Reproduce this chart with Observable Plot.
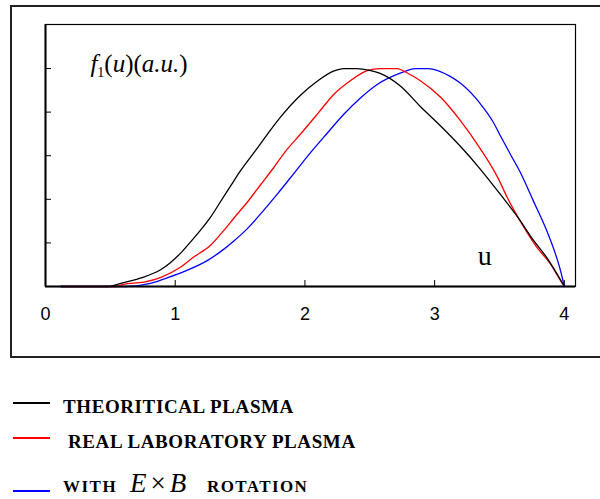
<!DOCTYPE html>
<html>
<head>
<meta charset="utf-8">
<script src="https://cdn.jsdelivr.net/npm/d3@7"></script>
<script src="https://cdn.jsdelivr.net/npm/@observablehq/plot@0.6"></script>
<style>
  html, body { margin: 0; padding: 0; background: #fff; }
  #wrap { position: relative; width: 600px; height: 499px; overflow: hidden; }
  #box { position: absolute; left: 10px; top: 5px; width: 600px; height: 349px; border: 2px solid #222; box-sizing: content-box; }
  #chart { position: absolute; left: 0; top: 0; }
  #legend { position: absolute; left: 0; top: 360px; }
</style>
</head>
<body>
<div id="wrap">
  <div id="box"></div>
  <div id="chart"></div>
  <div id="legend"></div>
</div>
<script>
// ---- data ----
const xTicks = [0, 1, 2, 3, 4];
const yTicks = [0, 1, 2, 3, 4, 5];

const uTheo = [0.12, 0.48, 0.58, 0.73, 0.89, 0.96, 1.04, 1.12, 1.20, 1.27, 1.35, 1.43, 1.50, 1.62, 1.71, 1.81, 1.97, 2.10, 2.22, 2.30, 2.40, 2.50, 2.58, 2.74, 2.89, 3.05, 3.20, 3.35, 3.51, 3.66, 3.74, 3.87, 4.00];
const fTheo = [0, 0, 0.07, 0.19, 0.39, 0.54, 0.76, 1.03, 1.31, 1.58, 1.95, 2.32, 2.64, 3.12, 3.49, 3.88, 4.40, 4.72, 4.94, 5.00, 5.00, 4.96, 4.89, 4.59, 4.13, 3.67, 3.21, 2.70, 2.10, 1.51, 1.15, 0.64, 0];

const uReal = [0.12, 0.54, 0.60, 0.76, 0.89, 1.04, 1.14, 1.27, 1.37, 1.45, 1.56, 1.66, 1.76, 1.85, 1.97, 2.10, 2.22, 2.35, 2.48, 2.58, 2.71, 2.80, 2.89, 3.05, 3.20, 3.35, 3.49, 3.56, 3.69, 3.79, 3.89, 3.97, 4.00];
const fReal = [0, 0, 0.05, 0.10, 0.21, 0.44, 0.67, 0.94, 1.27, 1.56, 1.95, 2.34, 2.73, 3.10, 3.51, 3.97, 4.40, 4.72, 4.95, 5.00, 5.00, 4.88, 4.72, 4.33, 3.80, 3.17, 2.48, 2.04, 1.35, 0.89, 0.53, 0.14, 0];

const uExB = [0.12, 0.62, 0.81, 0.94, 1.09, 1.25, 1.35, 1.45, 1.56, 1.68, 1.79, 1.89, 2.04, 2.17, 2.30, 2.43, 2.56, 2.74, 2.85, 2.95, 3.12, 3.20, 3.35, 3.45, 3.51, 3.59, 3.66, 3.76, 3.87, 3.93, 3.97, 4.00];
const fExB = [0, 0, 0.07, 0.20, 0.37, 0.60, 0.80, 1.04, 1.34, 1.74, 2.13, 2.50, 3.06, 3.51, 3.95, 4.33, 4.64, 4.90, 5.00, 5.00, 4.82, 4.66, 4.20, 3.78, 3.44, 3.00, 2.62, 1.97, 1.24, 0.76, 0.37, 0];

const seriesNames = ["THEORITICAL PLASMA", "REAL LABORATORY PLASMA", "WITH E×B ROTATION"];
const seriesColors = ["#000000", "#ff0000", "#0000ff"];

// ---- build tables ----
const toRows = (us, fs) => us.map((u, i) => ({u, f: fs[i]}));
const theo = toRows(uTheo, fTheo);
const real = toRows(uReal, fReal);
const exb = toRows(uExB, fExB);

const W = 600, H = 360;
const mL = 45, mR = 25, mT = 24, mB = 74;
const innerW = W - mL - mR, innerH = H - mT - mB;

const plot = Plot.plot({
  width: W, height: H,
  marginLeft: mL, marginRight: mR, marginTop: mT, marginBottom: mB,
  x: {domain: [0, 4.086]},
  y: {domain: [0, 6.01], axis: null},
  style: {background: "transparent", fontFamily: "'Liberation Sans', Arial, sans-serif", color: "#000"},
  marks: [
    Plot.frame({stroke: "#000", strokeWidth: 1.2}),
    Plot.tickX(xTicks, {x: d => d, insetTop: innerH - 6, stroke: "#000", strokeWidth: 1}),
    Plot.tickY(yTicks, {y: d => d, insetRight: innerW - 6, stroke: "#000", strokeWidth: 1}),
    Plot.axisX(xTicks, {tickSize: 0, tickPadding: 21, fontSize: 18, tickFormat: d => String(d), label: null}),
    Plot.line(exb, {x: "u", y: "f", stroke: seriesColors[2], strokeWidth: 1.3, curve: "monotone-x"}),
    Plot.line(real, {x: "u", y: "f", stroke: seriesColors[1], strokeWidth: 1.3, curve: "monotone-x"}),
    Plot.line(theo, {x: "u", y: "f", stroke: seriesColors[0], strokeWidth: 1.3, curve: "monotone-x"}),
    Plot.ruleX([0], {stroke: "#000", strokeWidth: 2}),
    Plot.ruleY([0], {stroke: "#000", strokeWidth: 2})
  ]
});
document.getElementById("chart").appendChild(plot);

// annotations inside the plot, positioned through the plot's scales
const sx = plot.scale("x"), sy = plot.scale("y");
const svg = d3.select(plot);
const serif = "'Liberation Serif', 'Times New Roman', serif";
const lab = svg.append("text")
  .attr("x", sx.apply(0.35)).attr("y", sy.apply(4.9))
  .attr("text-anchor", "start")
  .attr("font-family", serif)
  .attr("font-size", 25).attr("fill", "#000");
lab.append("tspan").attr("font-style", "italic").text("f");
lab.append("tspan").attr("font-size", 14).attr("dy", 5).text("1");
lab.append("tspan").attr("dy", -5).text("(");
lab.append("tspan").attr("font-style", "italic").text("u");
lab.append("tspan").text(")(");
lab.append("tspan").attr("font-style", "italic").text("a.u.");
lab.append("tspan").text(")");

svg.append("text")
  .attr("x", sx.apply(3.39)).attr("y", sy.apply(0.48))
  .attr("text-anchor", "middle")
  .attr("font-family", serif)
  .attr("font-size", 28).attr("fill", "#000")
  .text("u");

// ---- legend below the chart ----
const leg = d3.select("#legend").append("svg").attr("width", 600).attr("height", 139)
  .attr("text-anchor", "start");
const rows = [
  {lineY: 43, textY: 53, textX: 63},
  {lineY: 78, textY: 88, textX: 68},
  {lineY: 131, textY: 132, textX: 63}
];
seriesNames.forEach((name, i) => {
  const r = rows[i];
  leg.append("line").attr("x1", 13).attr("x2", 50).attr("y1", r.lineY).attr("y2", r.lineY)
    .attr("stroke", seriesColors[i]).attr("stroke-width", 2);
  if (i < 2) {
    leg.append("text").attr("x", r.textX).attr("y", r.textY)
      .attr("font-family", serif).attr("font-weight", "bold").attr("font-size", 19)
      .attr("letter-spacing", 0.6).attr("fill", "#000").text(name);
  } else {
    const [w, eb, rot] = ["WITH", "E×B", "ROTATION"];
    leg.append("text").attr("x", 63).attr("y", r.textY)
      .attr("font-family", serif).attr("font-weight", "bold").attr("font-size", 17)
      .attr("letter-spacing", 1.5).attr("fill", "#000").text(w);
    const t = leg.append("text").attr("x", 130).attr("y", r.textY)
      .attr("font-family", serif).attr("font-size", 27).attr("fill", "#000");
    t.append("tspan").attr("font-style", "italic").text("E");
    t.append("tspan").attr("dx", 4).text("×");
    t.append("tspan").attr("dx", 4).attr("font-style", "italic").text("B");
    leg.append("text").attr("x", 207).attr("y", r.textY)
      .attr("font-family", serif).attr("font-weight", "bold").attr("font-size", 17)
      .attr("letter-spacing", 1.4).attr("fill", "#000").text(rot);
  }
});
</script>
</body>
</html>
